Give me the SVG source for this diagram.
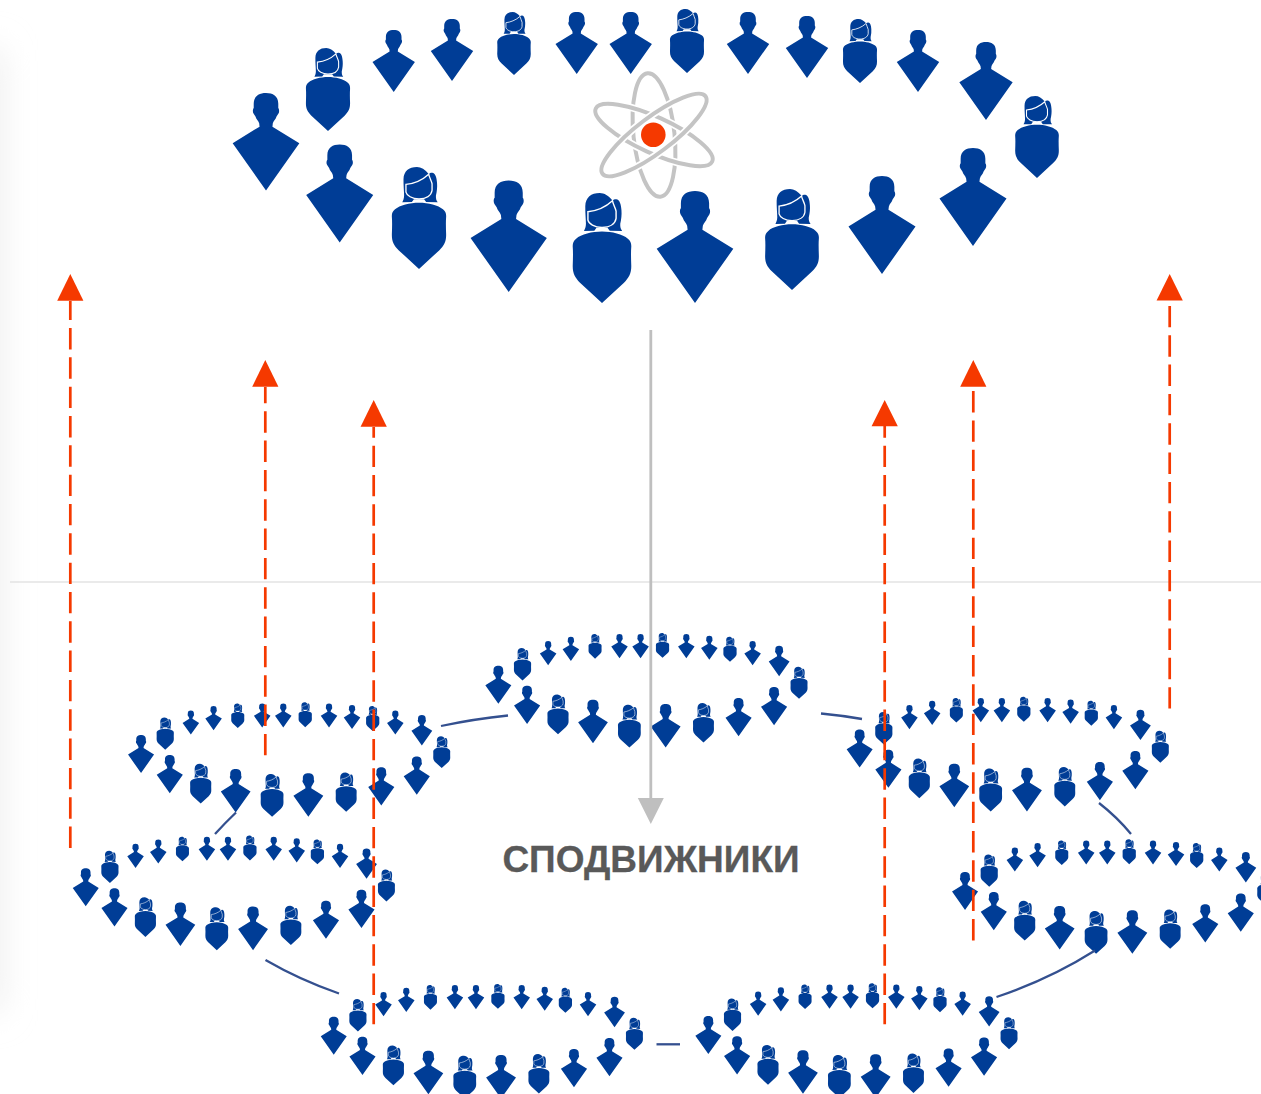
<svg xmlns="http://www.w3.org/2000/svg" width="1261" height="1094" viewBox="0 0 1261 1094">
<style>
.p{fill:#003d96}
.face{fill:none;stroke:#fff;stroke-width:1.3}
.dash{fill:none;stroke:#f53900;stroke-width:2.7;stroke-dasharray:21.4 7.93}
.redhead{fill:#f53900}
.link{fill:none;stroke:#34508f;stroke-width:2.3}
.orbit{fill:none;stroke:#c4c4c4;stroke-width:4}
.halo{fill:none;stroke:#fff;stroke-width:7.5}
.title{font-family:"Liberation Sans",Arial,sans-serif;font-weight:700;font-size:37px;fill:#595959;text-anchor:middle;stroke:#595959;stroke-width:.3}
</style>
<defs>
<filter id="soft" x="-300%" y="-20%" width="700%" height="140%"><feGaussianBlur stdDeviation="17"/></filter>
<path id="man" class="p" d="M0 0C7 0 12.6 3 12.6 11L12.6 15.5C13.6 16.5 13.8 19.5 12.8 21L10.8 24C10 27 7.8 28 7 31L6.6 34.5L34.2 51.6L0 100L-34.2 51.6L-6.6 34.5L-7 31C-7.8 28-10 27-10.8 24L-12.8 21C-13.8 19.5-13.6 16.5-12.6 15.5L-12.6 11C-12.6 3-7 0 0 0Z"/>
<g id="woman">
<path class="p" d="M-2 0C-10 0-15 4-15.2 12C-15.3 18-14.6 24-14.6 28C-14.6 31-15.6 33-16.4 34.6L-7 34.4L-5 31.5L5 31.5L7 34.4L18.4 34.6C17 33 16.4 31 16.6 28C17.6 24 18 20 17.7 16C17.4 10 16 6 13 5.6C11.6 5.5 10.5 6 9.5 6.8C6 2.5 2 0-2 0Z"/>
<path class="p" d="M0 35C9 35 19 37.5 23.5 41.5C26 43.5 26.8 46 26.6 49C26.2 54 26.4 60 26.6 66C26.8 73 24.5 77 20 81.5L0 100L-20 81.5C-24.5 77-26.8 73-26.6 66C-26.4 60-26.2 54-26.6 49C-26.8 46-26 43.5-23.5 41.5C-19 37.5-9 35 0 35Z"/>
<path class="face" d="M-12.8 17C-6 16.3 3 13 9.5 7C10 10 12 13 12.8 16.4L12.8 23C12 28 7 31.2 0 31.4C-7 31.2-12 28-12.8 24.6Z"/>
</g>
</defs>

<rect id="edge-shade" x="-30" y="50" width="30" height="960" fill="#ececec" filter="url(#soft)"/>
<line id="divider" x1="10" y1="582" x2="1261" y2="582" stroke="#e3e3e3" stroke-width="1.5"/>

<g id="atom">
<ellipse class="orbit" cx="654" cy="135" rx="20.5" ry="62" transform="rotate(-6 654 135)"/>
<ellipse class="halo" cx="654" cy="135" rx="64" ry="18" transform="rotate(24.5 654 135)"/>
<ellipse class="orbit" cx="654" cy="135" rx="64" ry="18" transform="rotate(24.5 654 135)"/>
<ellipse class="halo" cx="654" cy="135" rx="64.5" ry="17.5" transform="rotate(-37 654 135)"/>
<ellipse class="orbit" cx="654" cy="135" rx="64.5" ry="17.5" transform="rotate(-37 654 135)"/>
<circle cx="653.3" cy="134.7" r="12.3" fill="#f53900"/>
</g>

<g id="ring-main">
<g id="p1" transform="translate(266 93) scale(.975)"><use href="#man"/></g>
<g id="p2" transform="translate(328 48) scale(.83)"><use href="#woman"/></g>
<g id="p3" transform="translate(393.7 30) scale(.62)"><use href="#man"/></g>
<g id="p4" transform="translate(452 19) scale(.62)"><use href="#man"/></g>
<g id="p5" transform="translate(514 12) scale(.63)"><use href="#woman"/></g>
<g id="p6" transform="translate(576.7 12) scale(.62)"><use href="#man"/></g>
<g id="p7" transform="translate(630.7 12) scale(.62)"><use href="#man"/></g>
<g id="p8" transform="translate(687 9) scale(.64)"><use href="#woman"/></g>
<g id="p9" transform="translate(748 12) scale(.62)"><use href="#man"/></g>
<g id="p10" transform="translate(807 16) scale(.62)"><use href="#man"/></g>
<g id="p11" transform="translate(860 19) scale(.64)"><use href="#woman"/></g>
<g id="p12" transform="translate(918 30) scale(.62)"><use href="#man"/></g>
<g id="p13" transform="translate(986 42) scale(.78)"><use href="#man"/></g>
<g id="p14" transform="translate(1037 96) scale(.82)"><use href="#woman"/></g>
<g id="p15" transform="translate(973 148) scale(.98)"><use href="#man"/></g>
<g id="p16" transform="translate(882 176) scale(.98)"><use href="#man"/></g>
<g id="p17" transform="translate(792 189) scale(1.01)"><use href="#woman"/></g>
<g id="p18" transform="translate(695 191) scale(1.12)"><use href="#man"/></g>
<g id="p19" transform="translate(602 193) scale(1.1)"><use href="#woman"/></g>
<g id="p20" transform="translate(508.7 180.5) scale(1.115)"><use href="#man"/></g>
<g id="p21" transform="translate(419 167) scale(1.02)"><use href="#woman"/></g>
<g id="p22" transform="translate(339.7 144.5) scale(.98)"><use href="#man"/></g>
</g>

<g id="ring-center"><use href="#ring-main" transform="translate(394.6 629.4) scale(.39)"/></g>
<g id="ring-left-upper"><use href="#ring-main" transform="translate(37.3 698.7) scale(.39)"/></g>
<g id="ring-left-lower"><use href="#ring-main" transform="translate(-18 832) scale(.39)"/></g>
<g id="ring-right-upper"><use href="#ring-main" transform="translate(755.9 693.3) scale(.39)"/></g>
<g id="ring-right-lower"><use href="#ring-main" transform="translate(861.3 835.7) scale(.39)"/></g>
<g id="ring-bottom-left"><use href="#ring-main" transform="translate(230 980.4) scale(.39)"/></g>
<g id="ring-bottom-right"><use href="#ring-main" transform="translate(604.6 979.8) scale(.39)"/></g>

<g id="connectors">
<path class="link" d="M441 726Q474 719 508 715.5"/>
<path class="link" d="M821 713.5Q842 715.5 862 719"/>
<path class="link" d="M215 834Q225 823 236 812.5"/>
<path class="link" d="M265.5 960Q300 980 339 993.5"/>
<path class="link" d="M656.5 1044.3L680 1044.3"/>
<path class="link" d="M996.5 997Q1050 979 1095 950.5"/>
<path class="link" d="M1099 803Q1117 817 1131 834"/>
<g id="gray-arrow">
<line x1="650.8" y1="330" x2="650.8" y2="799" stroke="#bfbfbf" stroke-width="2.8"/>
<polygon points="637.8,798 663.8,798 650.8,824" fill="#bfbfbf"/>
</g>
<g id="red-arrows">
<path class="dash" d="M70.3 848V301"/><polygon class="redhead" points="70.3,274 83.4,300.7 57.2,300.7"/>
<path class="dash" d="M265.3 755.3V387"/><polygon class="redhead" points="265.3,360 278.4,386.7 252.2,386.7"/>
<path class="dash" d="M373.7 1024.3V427"/><polygon class="redhead" points="373.7,400 386.8,426.7 360.6,426.7"/>
<path class="dash" d="M884.7 1024.3V426"/><polygon class="redhead" points="884.7,400 897.8,426.3 871.6,426.3"/>
<path class="dash" d="M973.3 940.4V390"/><polygon class="redhead" points="973.3,360 986.4,386.7 960.2,386.7"/>
<path class="dash" d="M1169.7 708.6V305"/><polygon class="redhead" points="1169.7,274 1182.8,300.4 1156.6,300.4"/>
</g>
</g>

<text id="label" class="title" x="651" y="871.5">СПОДВИЖНИКИ</text>
</svg>
